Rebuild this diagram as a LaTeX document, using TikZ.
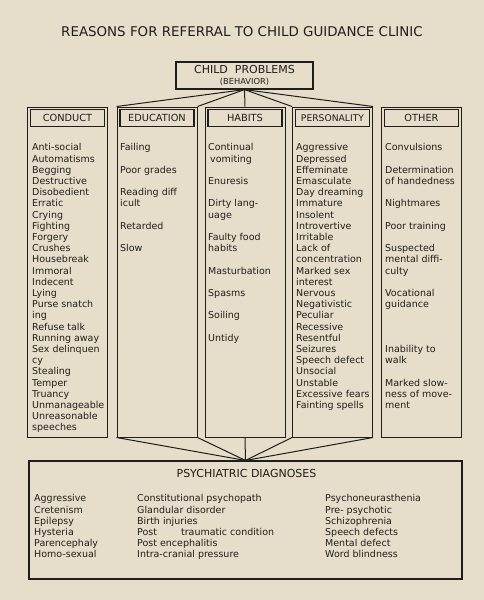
\documentclass[tikz,border=0pt]{standalone}
\usepackage{fontspec}
\setmainfont{DejaVu Sans}
\definecolor{paper}{RGB}{230,222,203}
\definecolor{ink}{RGB}{32,30,27}

\begin{document}
\begin{tikzpicture}[
		x=1pt, y=-1pt,
		every node/.style={text=ink},
		column/.style={
				draw=ink,
				line width=1pt,
				minimum width=80pt,
				minimum height=330pt,
				inner sep=0pt
			},
		header/.style={
				draw=ink,
				line width=1.7pt,
				minimum width=74pt,
				minimum height=17pt,
				inner sep=0pt,
				font=\fontsize{9.8}{11}\selectfont
			},
		items/.style={
				anchor=north west,
				align=left,
				inner sep=0pt,
				font=\fontsize{9.5}{11.2}\selectfont
			},
		link/.style={draw=ink, line width=1pt}
	]
	\fill[paper] (0,0) rectangle (484,600);
	\useasboundingbox (0,0) rectangle (484,600);

	\node (title) at (242,32) {\fontsize{13.4}{15}\selectfont REASONS FOR REFERRAL TO CHILD GUIDANCE CLINIC};

	\node[
		draw=ink,
		line width=1.2pt,
		minimum width=137pt,
		minimum height=27pt,
		inner sep=0pt,
		align=center
	] (problems) at (244.5,75.5) {\fontsize{11}{12}\selectfont CHILD\ \ PROBLEMS\\[-1.5pt]\fontsize{8.3}{9}\selectfont (BEHAVIOR)};

	% the five columns
	\node[column] (conduct) at (67.5,272) {};
	\node[column] (education) at (157,272) {};
	\node[column] (habits) at (245,272) {};
	\node[column] (personality) at (332.5,272) {};
	\node[column] (other) at (421.5,272) {};

	\node[header] (conducthead) at (67.5,118) {CONDUCT};
	\node[header] (educationhead) at (157,118) {EDUCATION};
	\node[header] (habitshead) at (245,118) {HABITS};
	\node[header] (personalityhead) at (332.5,118) {\fontsize{9.2}{11}\selectfont PERSONALITY};
	\node[header] (otherhead) at (421.5,118) {OTHER};

	\node[items] (conductlist) at (32,143.5) {Anti-social\\Automatisms\\Begging\\Destructive\\Disobedient\\Erratic\\Crying\\Fighting\\Forgery\\Crushes\\Housebreak\\Immoral\\Indecent\\Lying\\Purse snatch\\ing\\Refuse talk\\Running away\\Sex delinquen\\cy\\Stealing\\Temper\\Truancy\\Unmanageable\\Unreasonable\\speeches};
	\node[items] (educationlist) at (120,143.5) {Failing\\[11.2pt]Poor grades\\[11.2pt]Reading diff\\icult\\[11.2pt]Retarded\\[11.2pt]Slow};
	\node[items] (habitslist) at (208,143.5) {Continual\\\hspace{2pt}vomiting\\[11.2pt]Enuresis\\[11.2pt]Dirty lang-\\uage\\[11.2pt]Faulty food\\habits\\[11.2pt]Masturbation\\[11.2pt]Spasms\\[11.2pt]Soiling\\[11.2pt]Untidy};
	\node[items] (personalitylist) at (296,143.5) {Aggressive\\Depressed\\Effeminate\\Emasculate\\Day dreaming\\Immature\\Insolent\\Introvertive\\Irritable\\Lack of\\concentration\\Marked sex\\interest\\Nervous\\Negativistic\\Peculiar\\Recessive\\Resentful\\Seizures\\Speech defect\\Unsocial\\Unstable\\Excessive fears\\Fainting spells};
	\node[items] (otherlist) at (385,143.5) {Convulsions\\[11.2pt]Determination\\of handedness\\[11.2pt]Nightmares\\[11.2pt]Poor training\\[11.2pt]Suspected\\mental diffi-\\culty\\[11.2pt]Vocational\\guidance\\[33.6pt]Inability to\\walk\\[11.2pt]Marked slow-\\ness of move-\\ment};

	% diagnoses box
	\node[
		draw=ink,
		line width=1.1pt,
		minimum width=433pt,
		minimum height=118pt,
		inner sep=0pt
	] (diagnoses) at (245.5,520) {};
	\node (diagtitle) at (246.5,473) {\fontsize{11}{12}\selectfont PSYCHIATRIC DIAGNOSES};

	\node[items] (diaglistA) at (34,494.5) {Aggressive\\Cretenism\\Epilepsy\\Hysteria\\Parencephaly\\Homo-sexual};
	\node[items] (diaglistB) at (137,494.5) {Constitutional psychopath\\Glandular disorder\\Birth injuries\\Post\hspace{24pt}traumatic condition\\Post encephalitis\\Intra-cranial pressure};
	\node[items] (diaglistC) at (325,494.5) {Psychoneurasthenia\\Pre- psychotic\\Schizophrenia\\Speech defects\\Mental defect\\Word blindness};

	% fan from the top box
	\draw[link] (problems.south) -- (education.north west);
	\draw[link] (problems.south) -- (education.north east);
	\draw[link] (problems.south) -- (habits.north);
	\draw[link] (problems.south) -- (personality.north west);
	\draw[link] (problems.south) -- (personality.north east);

	% fan into the bottom box
	\draw[link] (education.south west) -- (diagnoses.north);
	\draw[link] (education.south east) -- (diagnoses.north);
	\draw[link] (habits.south) -- (diagnoses.north);
	\draw[link] (personality.south west) -- (diagnoses.north);
	\draw[link] (personality.south east) -- (diagnoses.north);

\end{tikzpicture}
\end{document}
